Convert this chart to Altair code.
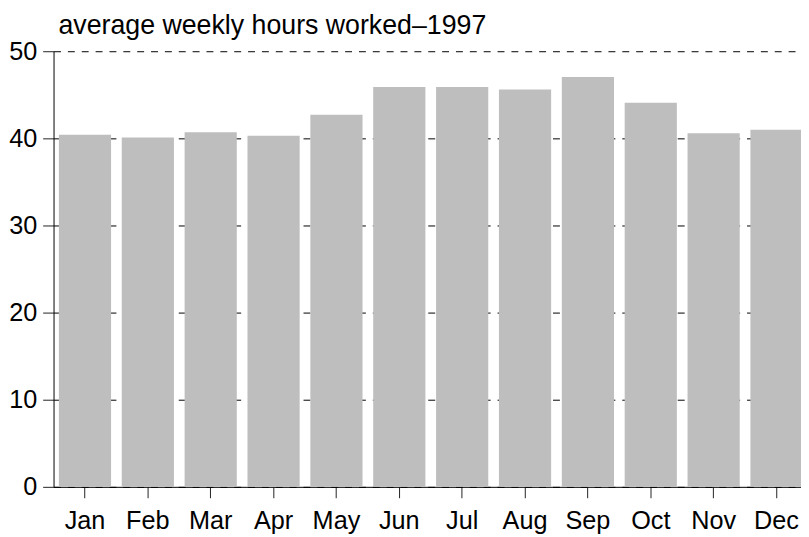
import altair as alt
import pandas as pd

months = ["Jan", "Feb", "Mar", "Apr", "May", "Jun",
          "Jul", "Aug", "Sep", "Oct", "Nov", "Dec"]
hours = [40.4, 40.1, 40.7, 40.3, 42.7, 45.9,
         45.9, 45.6, 47.05, 44.1, 40.6, 41.0]
y_ticks = [0, 10, 20, 30, 40, 50]
title_text = "average weekly hours worked\u20131997"

df = pd.DataFrame({"month": months, "hours": hours})

FONT = "Liberation Sans"

chart = alt.Chart(df).mark_bar(color="#bebebe", y2Offset=-3).encode(
    x=alt.X("month:N", sort=months,
            scale=alt.Scale(range=[0, 762], paddingInner=0.17, paddingOuter=0.085),
            axis=alt.Axis(title=None, labelAngle=0, domain=True, domainColor="#000",
                          ticks=True, tickSize=11, tickColor="#222", grid=False,
                          labelFont=FONT, labelFontSize=25.5, labelColor="#000",
                          labelPadding=11)),
    y=alt.Y("hours:Q", scale=alt.Scale(domain=[0, 50], nice=False, zero=True),
            axis=alt.Axis(title=None, values=y_ticks, domain=True, domainColor="#000",
                          ticks=True, tickSize=11, tickColor="#222",
                          grid=True, gridColor="#000", gridDash=[7, 7], gridWidth=1,
                          labelFont=FONT, labelFontSize=25.5, labelColor="#000",
                          labelPadding=6)),
).properties(
    width=755,
    height=440,
    title=alt.TitleParams(title_text, anchor="start", frame="group", font=FONT,
                          fontSize=27, fontWeight="normal", color="#000",
                          baseline="alphabetic", offset=4.5, dx=5, dy=26),
    autosize=alt.AutoSizeParams(type="none"),
    padding={"left": 46, "top": 41, "right": 0, "bottom": 48},
).configure_view(stroke=None)

chart.save("out.html", embed_options={"renderer": "svg", "actions": False})
